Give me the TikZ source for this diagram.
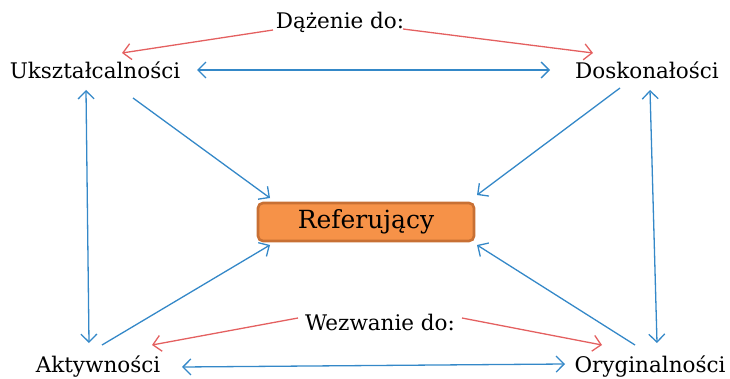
\documentclass[tikz,border=0pt]{standalone}
\usepackage{fontspec}
\setmainfont{DejaVu Serif}
\usetikzlibrary{arrows.meta}

\definecolor{linkblue}{RGB}{52,136,200}
\definecolor{callred}{RGB}{228,96,96}
\definecolor{reffill}{RGB}{246,146,72}
\definecolor{refdraw}{RGB}{200,112,52}

\begin{document}
\begin{tikzpicture}[x=1pt, y=-1pt,
  lbl/.style={inner sep=0pt, font=\fontsize{21.5}{24}\selectfont},
  refbox/.style={draw=refdraw, fill=reffill, line width=2.6pt, rounded corners=5pt,
                 minimum width=216pt, minimum height=38pt, inner sep=0pt,
                 font=\fontsize{25}{30}\selectfont},
  arr/.style={-{Straight Barb[length=8pt,width=16pt]}, linkblue, line width=1.3pt},
  dbl/.style={{Straight Barb[length=8pt,width=16pt]}-{Straight Barb[length=8pt,width=16pt]}, linkblue, line width=1.3pt},
  call/.style={-{Straight Barb[length=8pt,width=16pt]}, callred, line width=1.3pt}
]
  \useasboundingbox (0,0) rectangle (730,379);

  \node[lbl] (uksz) at (95,70) {Ukształcalności};
  \node[lbl] (dosk) at (647,70) {Doskonałości};
  \node[lbl] (akt) at (98,367) {Aktywności};
  \node[lbl] (oryg) at (650,367) {Oryginalności};
  \node[lbl] (dazenie) at (340,22) {Dążenie do:};
  \node[lbl] (wezwanie) at (380,322) {Wezwanie do:};
  \node[refbox] (ref) at (366,222) {Referujący};

  % blue links
  \draw[dbl] ([shift={(102,0)}]uksz.center) -- ([shift={(-97,0)}]dosk.center);
  \draw[dbl] ([shift={(84,0)}]akt.center) -- ([shift={(-85,-3)}]oryg.center);
  \draw[dbl] ([shift={(-9,20)}]uksz.center) -- ([shift={(-9,-24)}]akt.center);
  \draw[dbl] ([shift={(3,20)}]dosk.center) -- ([shift={(7,-24)}]oryg.center);

  \draw[arr] ([shift={(38,28)}]uksz.center) -- ([shift={(-96,-24)}]ref.center);
  \draw[arr] ([shift={(-27,18)}]dosk.center) -- ([shift={(111,-27)}]ref.center);
  \draw[arr] ([shift={(4,-22)}]akt.center) -- ([shift={(-96,23)}]ref.center);
  \draw[arr] ([shift={(-15,-22)}]oryg.center) -- ([shift={(111,23)}]ref.center);

  % red calls
  \draw[call] ([shift={(-67,8)}]dazenie.center) -- ([shift={(27,-17)}]uksz.center);
  \draw[call] ([shift={(63,7)}]dazenie.center) -- ([shift={(-54,-17)}]dosk.center);
  \draw[call] ([shift={(-82,-4)}]wezwanie.center) -- ([shift={(54,-22)}]akt.center);
  \draw[call] ([shift={(82,-4)}]wezwanie.center) -- ([shift={(-48,-22)}]oryg.center);
\end{tikzpicture}
\end{document}
